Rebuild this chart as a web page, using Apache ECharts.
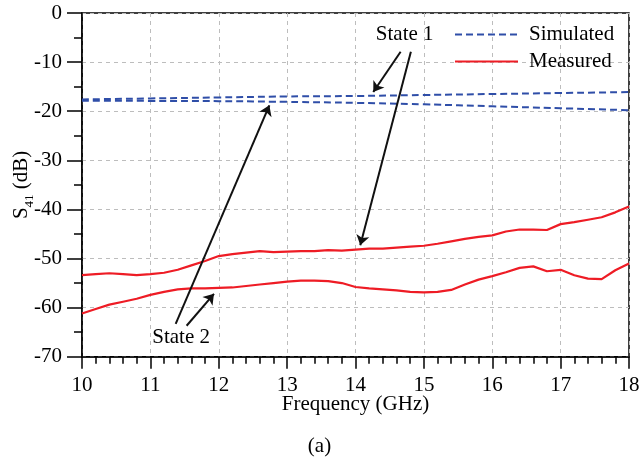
<!DOCTYPE html>
<html>
<head>
<meta charset="utf-8">
<script src="https://cdn.jsdelivr.net/npm/echarts@6/dist/echarts.min.js"></script>
<style>html,body{margin:0;padding:0;background:#fff;}#c{width:639px;height:462px;}</style>
</head>
<body>
<div id="c"></div>
<script>
// Frequencies (GHz)
const simFreq = [10, 11, 12, 13, 14, 15, 16, 17, 18];
const simState1 = [-17.6, -17.4, -17.2, -17.0, -16.9, -16.7, -16.5, -16.3, -16.1];
const simState2 = [-17.85, -17.9, -17.95, -18.1, -18.3, -18.6, -19.0, -19.4, -19.8];

const measFreq = [10.0,10.2,10.4,10.6,10.8,11.0,11.2,11.4,11.6,11.8,12.0,12.2,12.4,12.6,12.8,13.0,13.2,13.4,13.6,13.8,14.0,14.2,14.4,14.6,14.8,15.0,15.2,15.4,15.6,15.8,16.0,16.2,16.4,16.6,16.8,17.0,17.2,17.4,17.6,17.8,18.0];
const measState1 = [-53.4,-53.2,-53.0,-53.2,-53.4,-53.2,-52.9,-52.3,-51.4,-50.5,-49.5,-49.1,-48.8,-48.5,-48.7,-48.6,-48.5,-48.5,-48.3,-48.4,-48.2,-48.0,-48.0,-47.8,-47.6,-47.4,-47.0,-46.5,-46.0,-45.6,-45.3,-44.5,-44.1,-44.1,-44.2,-43.0,-42.6,-42.1,-41.6,-40.6,-39.4];
const measState2 = [-61.2,-60.3,-59.4,-58.8,-58.2,-57.4,-56.8,-56.3,-56.1,-56.1,-56.0,-55.9,-55.6,-55.3,-55.0,-54.7,-54.5,-54.5,-54.6,-55.0,-55.8,-56.1,-56.3,-56.5,-56.8,-56.9,-56.8,-56.4,-55.3,-54.3,-53.6,-52.8,-51.9,-51.6,-52.6,-52.3,-53.4,-54.1,-54.2,-52.4,-51.0];

const xTicks = [10, 11, 12, 13, 14, 15, 16, 17, 18];
const yTicks = [0, -10, -20, -30, -40, -50, -60, -70];

// Annotation arrows: [start, tip] in data coordinates
const arrows = [
  [[14.66, -7.9], [14.26, -16.1]],
  [[14.81, -7.9], [14.07, -47.3]],
  [[11.37, -63.3], [12.74, -18.8]],
  [[11.53, -63.7], [11.93, -57.2]]
];
const labels = [
  {text: 'State 1', coord: [14.72, -4.4]},
  {text: 'State 2', coord: [11.45, -66.0]}
];

const FONT = 'Liberation Serif';
const pair = (xs, ys) => xs.map((x, i) => [x, ys[i]]);
const BLUE = '#2f4ea8', RED = '#ee1c25';

const chart = echarts.init(document.getElementById('c'), null, {renderer: 'canvas'});
chart.setOption({
  animation: false,
  backgroundColor: '#fff',
  textStyle: {fontFamily: FONT, color: '#000'},
  grid: {left: 82, right: 10, top: 13, bottom: 105.3, containLabel: false, outerBoundsMode: 'none',
    show: true, borderColor: '#000', borderWidth: 1.5, backgroundColor: 'transparent'},
  legend: {
    data: ['Simulated', 'Measured'],
    orient: 'vertical', left: 454, top: 24, padding: 0,
    itemWidth: 63, itemHeight: 14, itemGap: 6,
    itemStyle: {opacity: 0, borderWidth: 0},
    textStyle: {fontFamily: FONT, fontSize: 21, color: '#000', padding: [0, 0, 0, 6]}
  },
  xAxis: {
    type: 'value', min: xTicks[0], max: xTicks[xTicks.length - 1], interval: 1,
    name: 'Frequency (GHz)', nameLocation: 'middle', nameGap: 37, nameMoveOverlap: false,
    nameTextStyle: {fontFamily: FONT, fontSize: 21, color: '#000'},
    axisLine: {onZero: false, lineStyle: {color: '#000', width: 1.5}},
    axisTick: {length: 12, lineStyle: {color: '#000', width: 1.5}},
    minorTick: {show: true, splitNumber: 5, length: 7, lineStyle: {color: '#000', width: 1.5}},
    axisLabel: {fontFamily: FONT, fontSize: 21, color: '#000', margin: 18},
    splitLine: {show: true, lineStyle: {color: '#bdbdbd', type: [4, 4], width: 1}}
  },
  yAxis: {
    type: 'value', min: yTicks[yTicks.length - 1], max: yTicks[0], interval: 10,
    name: '{s|S}{sub|41}{s| (dB)}', nameLocation: 'middle', nameGap: 50, nameMoveOverlap: false,
    nameTextStyle: {
      fontFamily: FONT, fontSize: 21, color: '#000',
      rich: {
        s: {fontFamily: FONT, fontSize: 21, color: '#000', lineHeight: 24, verticalAlign: 'bottom'},
        sub: {fontFamily: FONT, fontSize: 13, color: '#000', lineHeight: 24, verticalAlign: 'bottom', padding: [0, 0, -4, 0]}
      }
    },
    axisLine: {onZero: false, lineStyle: {color: '#000', width: 1.5}},
    axisTick: {length: 15, lineStyle: {color: '#000', width: 1.5}},
    minorTick: {show: true, splitNumber: 2, length: 8, lineStyle: {color: '#000', width: 1.5}},
    axisLabel: {fontFamily: FONT, fontSize: 21, color: '#000', margin: 20},
    splitLine: {show: true, lineStyle: {color: '#bdbdbd', type: [4, 4], width: 1}}
  },
  series: [
    {name: 'Simulated', type: 'line', data: pair(simFreq, simState1), symbol: 'none', smooth: true,
      lineStyle: {color: BLUE, width: 2, type: [7, 4]}, itemStyle: {color: BLUE}},
    {name: 'Simulated', type: 'line', data: pair(simFreq, simState2), symbol: 'none', smooth: true,
      lineStyle: {color: BLUE, width: 2, type: [7, 4]}, itemStyle: {color: BLUE}},
    {name: 'Measured', type: 'line', data: pair(measFreq, measState1), symbol: 'none',
      lineStyle: {color: RED, width: 2.2}, itemStyle: {color: RED}},
    {name: 'Measured', type: 'line', data: pair(measFreq, measState2), symbol: 'none',
      lineStyle: {color: RED, width: 2.2}, itemStyle: {color: RED}},
    {name: 'annot', type: 'line', data: [], symbol: 'none', silent: true,
      markLine: {
        silent: true, symbol: ['none', 'arrow'], symbolSize: 10,
        label: {show: false},
        lineStyle: {color: '#111', width: 2, type: 'solid'},
        itemStyle: {color: '#111'},
        data: arrows.map(a => [{coord: a[0]}, {coord: a[1]}])
      },
      markPoint: {
        silent: true, symbol: 'circle', symbolSize: 0,
        label: {show: true, position: 'inside', formatter: p => p.name, fontFamily: FONT, fontSize: 21, color: '#000'},
        data: labels.map(l => ({name: l.text, coord: l.coord}))
      }
    }
  ],
  graphic: [
    {type: 'text', left: 'center', top: 436, style: {text: '(a)', font: '21px "Liberation Serif"', fill: '#000'}}
  ]
});
</script>
</body>
</html>
